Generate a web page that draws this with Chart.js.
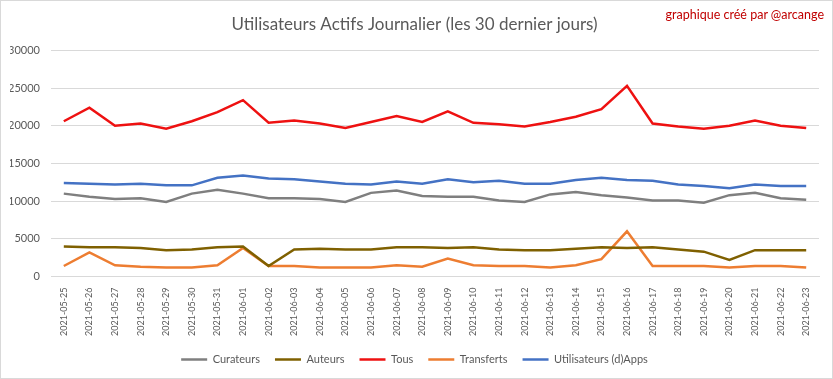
<!DOCTYPE html>
<html>
<head>
<meta charset="utf-8">
<script src="https://cdn.jsdelivr.net/npm/chart.js@4/dist/chart.umd.min.js"></script>
<style>
html,body{margin:0;padding:0;background:#fff;}
#wrap{position:relative;width:831px;height:377px;border:1px solid #d9d9d9;}
#credit{position:absolute;right:8px;top:6px;font-family:Lato,sans-serif;font-size:12.5px;color:#c00000;white-space:nowrap;}
</style>
</head>
<body>
<div id="wrap"><canvas id="c" width="831" height="377"></canvas><div id="credit">graphique créé par @arcange</div></div>
<script>
const categories = ["2021-05-25","2021-05-26","2021-05-27","2021-05-28","2021-05-29","2021-05-30","2021-05-31","2021-06-01","2021-06-02","2021-06-03","2021-06-04","2021-06-05","2021-06-06","2021-06-07","2021-06-08","2021-06-09","2021-06-10","2021-06-11","2021-06-12","2021-06-13","2021-06-14","2021-06-15","2021-06-16","2021-06-17","2021-06-18","2021-06-19","2021-06-20","2021-06-21","2021-06-22","2021-06-23"];
const curateurs = [11000,10600,10300,10400,9900,11000,11500,11000,10400,10400,10300,9900,11100,11400,10700,10600,10600,10100,9900,10900,11200,10800,10500,10100,10100,9800,10800,11100,10400,10200];
const auteurs = [4000,3900,3900,3800,3500,3600,3900,4000,1400,3600,3700,3600,3600,3900,3900,3800,3900,3600,3500,3500,3700,3900,3800,3900,3600,3300,2200,3500,3500,3500];
const tous = [20600,22400,20000,20300,19600,20600,21800,23400,20400,20700,20300,19700,20500,21300,20500,21900,20400,20200,19900,20500,21200,22200,25300,20300,19900,19600,20000,20700,20000,19700];
const transferts = [1400,3200,1500,1300,1200,1200,1500,3800,1400,1400,1200,1200,1200,1500,1300,2400,1500,1400,1400,1200,1500,2300,6000,1400,1400,1400,1200,1400,1400,1200];
const dapps = [12400,12300,12200,12300,12100,12100,13100,13400,13000,12900,12600,12300,12200,12600,12300,12900,12500,12700,12300,12300,12800,13100,12800,12700,12200,12000,11700,12200,12000,12000];
const yTicks = [0,5000,10000,15000,20000,25000,30000];

const txt = '#595959';
const F = 'Lato, "Open Sans", sans-serif';
function ds(label, data, color){
  return {label, data, borderColor: color, backgroundColor: color, borderWidth: 2.5, pointRadius: 0, tension: 0, fill: false};
}
new Chart(document.getElementById('c'), {
  type: 'line',
  data: {
    labels: categories,
    datasets: [
      ds('Curateurs', curateurs, '#7f7f7f'),
      ds('Auteurs', auteurs, '#7f6000'),
      ds('Tous', tous, '#ee1111'),
      ds('Transferts', transferts, '#ed7d31'),
      ds('Utilisateurs (d)Apps', dapps, '#4472c4')
    ]
  },
  options: {
    responsive: false,
    animation: false,
    layout: {padding: {left: 9, right: 13, top: 8, bottom: 3}},
    plugins: {
      title: {display: true, text: 'Utilisateurs Actifs Journalier (les 30 dernier jours)', color: txt,
        font: {family: F, size: 17, weight: 'normal'}, padding: {top: 5, bottom: 16}},
      legend: {position: 'bottom', labels: {color: txt, usePointStyle: true, pointStyle: 'line', pointStyleWidth: 26, boxHeight: 11, padding: 15,
        font: {family: F, size: 11}}},
      tooltip: {enabled: false}
    },
    scales: {
      x: {offset: true, grid: {display: false}, border: {color: '#d9d9d9'},
        ticks: {color: txt, maxRotation: 90, minRotation: 90, autoSkip: false, padding: 3,
          font: {family: F, size: 9}}},
      y: {min: 0, max: 30000, afterBuildTicks: (s) => { s.ticks = yTicks.map(v => ({value: v})); },
        afterFit: (s) => { s.width = 41; },
        grid: {color: '#d9d9d9', drawTicks: false}, border: {display: false},
        ticks: {color: txt, padding: 11, callback: (v) => String(v), font: {family: F, size: 11}}}
    }
  }
});
</script>
</body>
</html>
